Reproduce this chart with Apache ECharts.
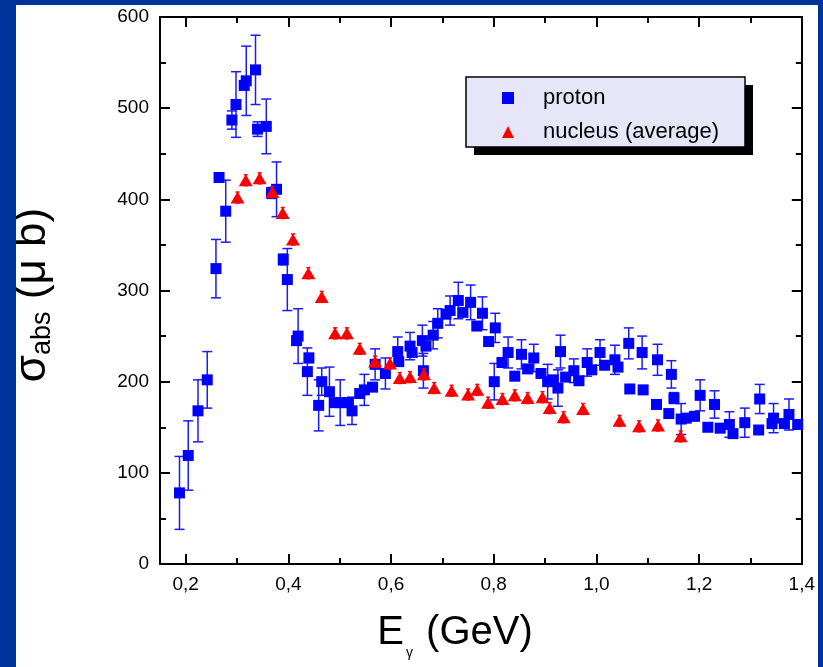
<!DOCTYPE html>
<html><head><meta charset="utf-8">
<script src="https://cdn.jsdelivr.net/npm/echarts@6/dist/echarts.min.js"></script>
<style>
html,body{margin:0;padding:0;width:823px;height:667px;background:#003399;overflow:hidden;}
#chart{position:absolute;left:16px;top:5px;width:802px;height:662px;background:#fff;}
</style></head>
<body><div id="chart"></div>
<script>
// ---- data ----
const protonE = [0.188,0.205,0.224,0.242,0.259,0.265,0.278,0.290,0.298,0.314,0.318,0.336,0.340,0.357,0.367,0.377,0.390,0.398,0.416,0.419,0.437,0.440,0.459,0.465,0.480,0.490,0.501,0.517,0.524,0.539,0.548,0.564,0.569,0.589,0.613,0.615,0.637,0.641,0.661,0.663,0.668,0.682,0.691,0.707,0.715,0.731,0.740,0.755,0.767,0.778,0.790,0.801,0.803,0.816,0.828,0.841,0.854,0.866,0.878,0.892,0.905,0.916,0.925,0.930,0.940,0.956,0.966,0.982,0.991,1.007,1.016,1.036,1.042,1.063,1.065,1.089,1.091,1.117,1.119,1.141,1.146,1.151,1.165,1.175,1.191,1.202,1.217,1.230,1.241,1.259,1.266,1.289,1.316,1.318,1.342,1.345,1.366,1.375,1.392];
const protonSigma = [78,119,168,202,324,424,387,487,504,525,530,542,477,480,407,411,334,312,245,250,211,226,174,200,189,177,177,177,168,187,191,194,219,209,233,222,239,232,245,212,239,251,264,274,278,289,276,287,261,275,244,200,259,221,232,206,230,214,226,209,200,202,193,233,205,212,201,221,213,232,218,224,216,242,192,232,191,175,224,165,208,182,159,160,162,185,150,175,149,153,143,155,147,181,154,160,154,164,153];
const protonErr = [40,38,34,31,32,5,34,10,36,5,38,38,8,30,6,30,6,34,5,30,26,5,28,15,27,0,25,0,15,0,17,0,17,17,16,0,15,0,17,19,0,15,16,0,16,20,0,19,0,18,0,20,16,0,17,0,16,0,15,0,19,0,20,18,0,13,0,15,0,14,0,16,0,17,0,18,0,0,17,0,15,6,17,0,0,17,0,15,0,14,0,16,0,16,0,16,0,17,0];

const nucleusE = [0.301,0.317,0.344,0.369,0.389,0.409,0.439,0.465,0.491,0.514,0.539,0.569,0.598,0.617,0.637,0.664,0.684,0.718,0.750,0.768,0.789,0.817,0.841,0.866,0.895,0.909,0.936,0.974,1.045,1.083,1.120,1.164];
const nucleusSigma = [402,421,423,408,385,356,319,293,253,253,236,222,220,204,205,208,193,190,186,191,177,181,185,182,183,171,161,170,157,151,152,140];
const nucleusErr = [6,6,6,6,6,6,6,6,6,6,6,6,6,6,6,6,6,6,6,6,6,6,6,6,6,6,6,6,6,6,6,6];

const xMajorTicks = [0.2,0.4,0.6,0.8,1.0,1.2,1.4];
const xMinorTicks = [0.3,0.5,0.7,0.9,1.1,1.3];
const yTicks = [0,100,200,300,400,500,600];

const seriesNames = ['proton','nucleus (average)'];
// ---------------

const FONT = '"Liberation Sans", Arial, sans-serif';
const protonPts = protonE.map((e,i)=>[e, protonSigma[i]]);
const protonBars = protonE.map((e,i)=>[e, protonSigma[i]-protonErr[i], protonSigma[i]+protonErr[i]]).filter((d,i)=>protonErr[i]>0);
const nucleusPts = nucleusE.map((e,i)=>[e, nucleusSigma[i]]);
const nucleusBars = nucleusE.map((e,i)=>[e, nucleusSigma[i]-nucleusErr[i], nucleusSigma[i]+nucleusErr[i]]);

function errRender(color, cap, lw){
  return function(params, api){
    const x = api.value(0), lo = api.value(1), hi = api.value(2);
    const p1 = api.coord([x, hi]), p2 = api.coord([x, lo]);
    const st = {stroke: color, lineWidth: lw};
    return {type:'group', children:[
      {type:'line', shape:{x1:p1[0],y1:p1[1],x2:p2[0],y2:p2[1]}, style:st},
      {type:'line', shape:{x1:p1[0]-cap,y1:p1[1],x2:p1[0]+cap,y2:p1[1]}, style:st},
      {type:'line', shape:{x1:p2[0]-cap,y1:p2[1],x2:p2[0]+cap,y2:p2[1]}, style:st}
    ]};
  };
}

const axisLine = {show:true, onZero:false, lineStyle:{color:'#000', width:2}};
function xAx(pos, ticks, len, labels){
  return {
    type:'value', position:pos, min:0.15, max:1.40,
    axisLine: axisLine,
    splitLine:{show:false},
    axisTick:{show:true, inside:true, length:len, customValues:ticks, lineStyle:{color:'#000', width:2}},
    axisLabel: labels ? {show:true, customValues:ticks, margin:11, color:'#000', fontSize:19, fontFamily:FONT,
      formatter:v=>v.toFixed(1).replace('.', ',')} : {show:false}
  };
}
function yAx(pos, labels){
  return {
    type:'value', position:pos, min:0, max:600, interval:100,
    axisLine: axisLine,
    splitLine:{show:false},
    axisTick:{show:true, inside:true, length:10, lineStyle:{color:'#000', width:2}},
    minorTick:{show:true, splitNumber:2, length:6, lineStyle:{color:'#000', width:2}},
    axisLabel: labels ? {show:true, margin:11, color:'#000', fontSize:19, fontFamily:FONT} : {show:false}
  };
}

const chart = echarts.init(document.getElementById('chart'), null, {renderer:'canvas'});
chart.setOption({
  animation:false,
  backgroundColor:'#fff',
  grid:{left:144, right:15, top:12, bottom:103, containLabel:false},
  xAxis:[xAx('bottom', xMajorTicks, 10, true), xAx('bottom', xMinorTicks, 6, false), xAx('top', xMajorTicks, 10, false), xAx('top', xMinorTicks, 6, false)],
  yAxis:[yAx('left', true), yAx('right', false)],
  legend:{
    show:true, orient:'vertical', left:481, top:75, padding:5, itemGap:8,
    itemWidth:12, itemHeight:12,
    textStyle:{fontSize:22, lineHeight:26, color:'#000', fontFamily:FONT, padding:[0,0,0,24]},
    data: seriesNames, z:10
  },
  graphic:[
    {type:'rect', z:3, shape:{x:458, y:80, width:279, height:70}, style:{fill:'#000'}},
    {type:'rect', z:4, shape:{x:450, y:72, width:279, height:70}, style:{fill:'#e6e6f8', stroke:'#000', lineWidth:1.5}},
    {type:'text', z:5, x:439, y:628, style:{
      text:'{a|E}{s|γ}{a| (GeV)}', align:'center', verticalAlign:'middle', fill:'#000',
      rich:{a:{fontSize:40, fontFamily:FONT, fill:'#000'}, s:{fontSize:14, fontFamily:FONT, fill:'#000', verticalAlign:'top', padding:[40,2,0,2]}}
    }},
    {type:'text', z:5, x:17, y:290, rotation:Math.PI/2, style:{
      text:'{a|σ}{s|abs}{a| (μ b)}', align:'center', verticalAlign:'middle', fill:'#000',
      rich:{a:{fontSize:44, fontFamily:FONT, fill:'#000'}, s:{fontSize:27, fontFamily:FONT, fill:'#000', verticalAlign:'top', padding:[19,0,0,0]}}
    }}
  ],
  series:[
    {type:'custom', name:'protonErr', xAxisIndex:0, yAxisIndex:0, data:protonBars, z:2,
      renderItem: errRender('#1a1aff', 5, 1.5), encode:{x:0, y:[1,2]}, silent:true},
    {type:'scatter', name:seriesNames[0], xAxisIndex:0, yAxisIndex:0, data:protonPts, z:3,
      symbol:'rect', symbolSize:11, itemStyle:{color:'#0000ff', opacity:1}},
    {type:'custom', name:'nucleusErr', xAxisIndex:0, yAxisIndex:0, data:nucleusBars, z:4,
      renderItem: errRender('#ff0000', 2, 1.5), encode:{x:0, y:[1,2]}, silent:true},
    {type:'scatter', name:seriesNames[1], xAxisIndex:0, yAxisIndex:0, data:nucleusPts, z:5,
      symbol:'triangle', symbolSize:[14,12], itemStyle:{color:'#ff0000', opacity:1}}
  ]
});
</script></body></html>
